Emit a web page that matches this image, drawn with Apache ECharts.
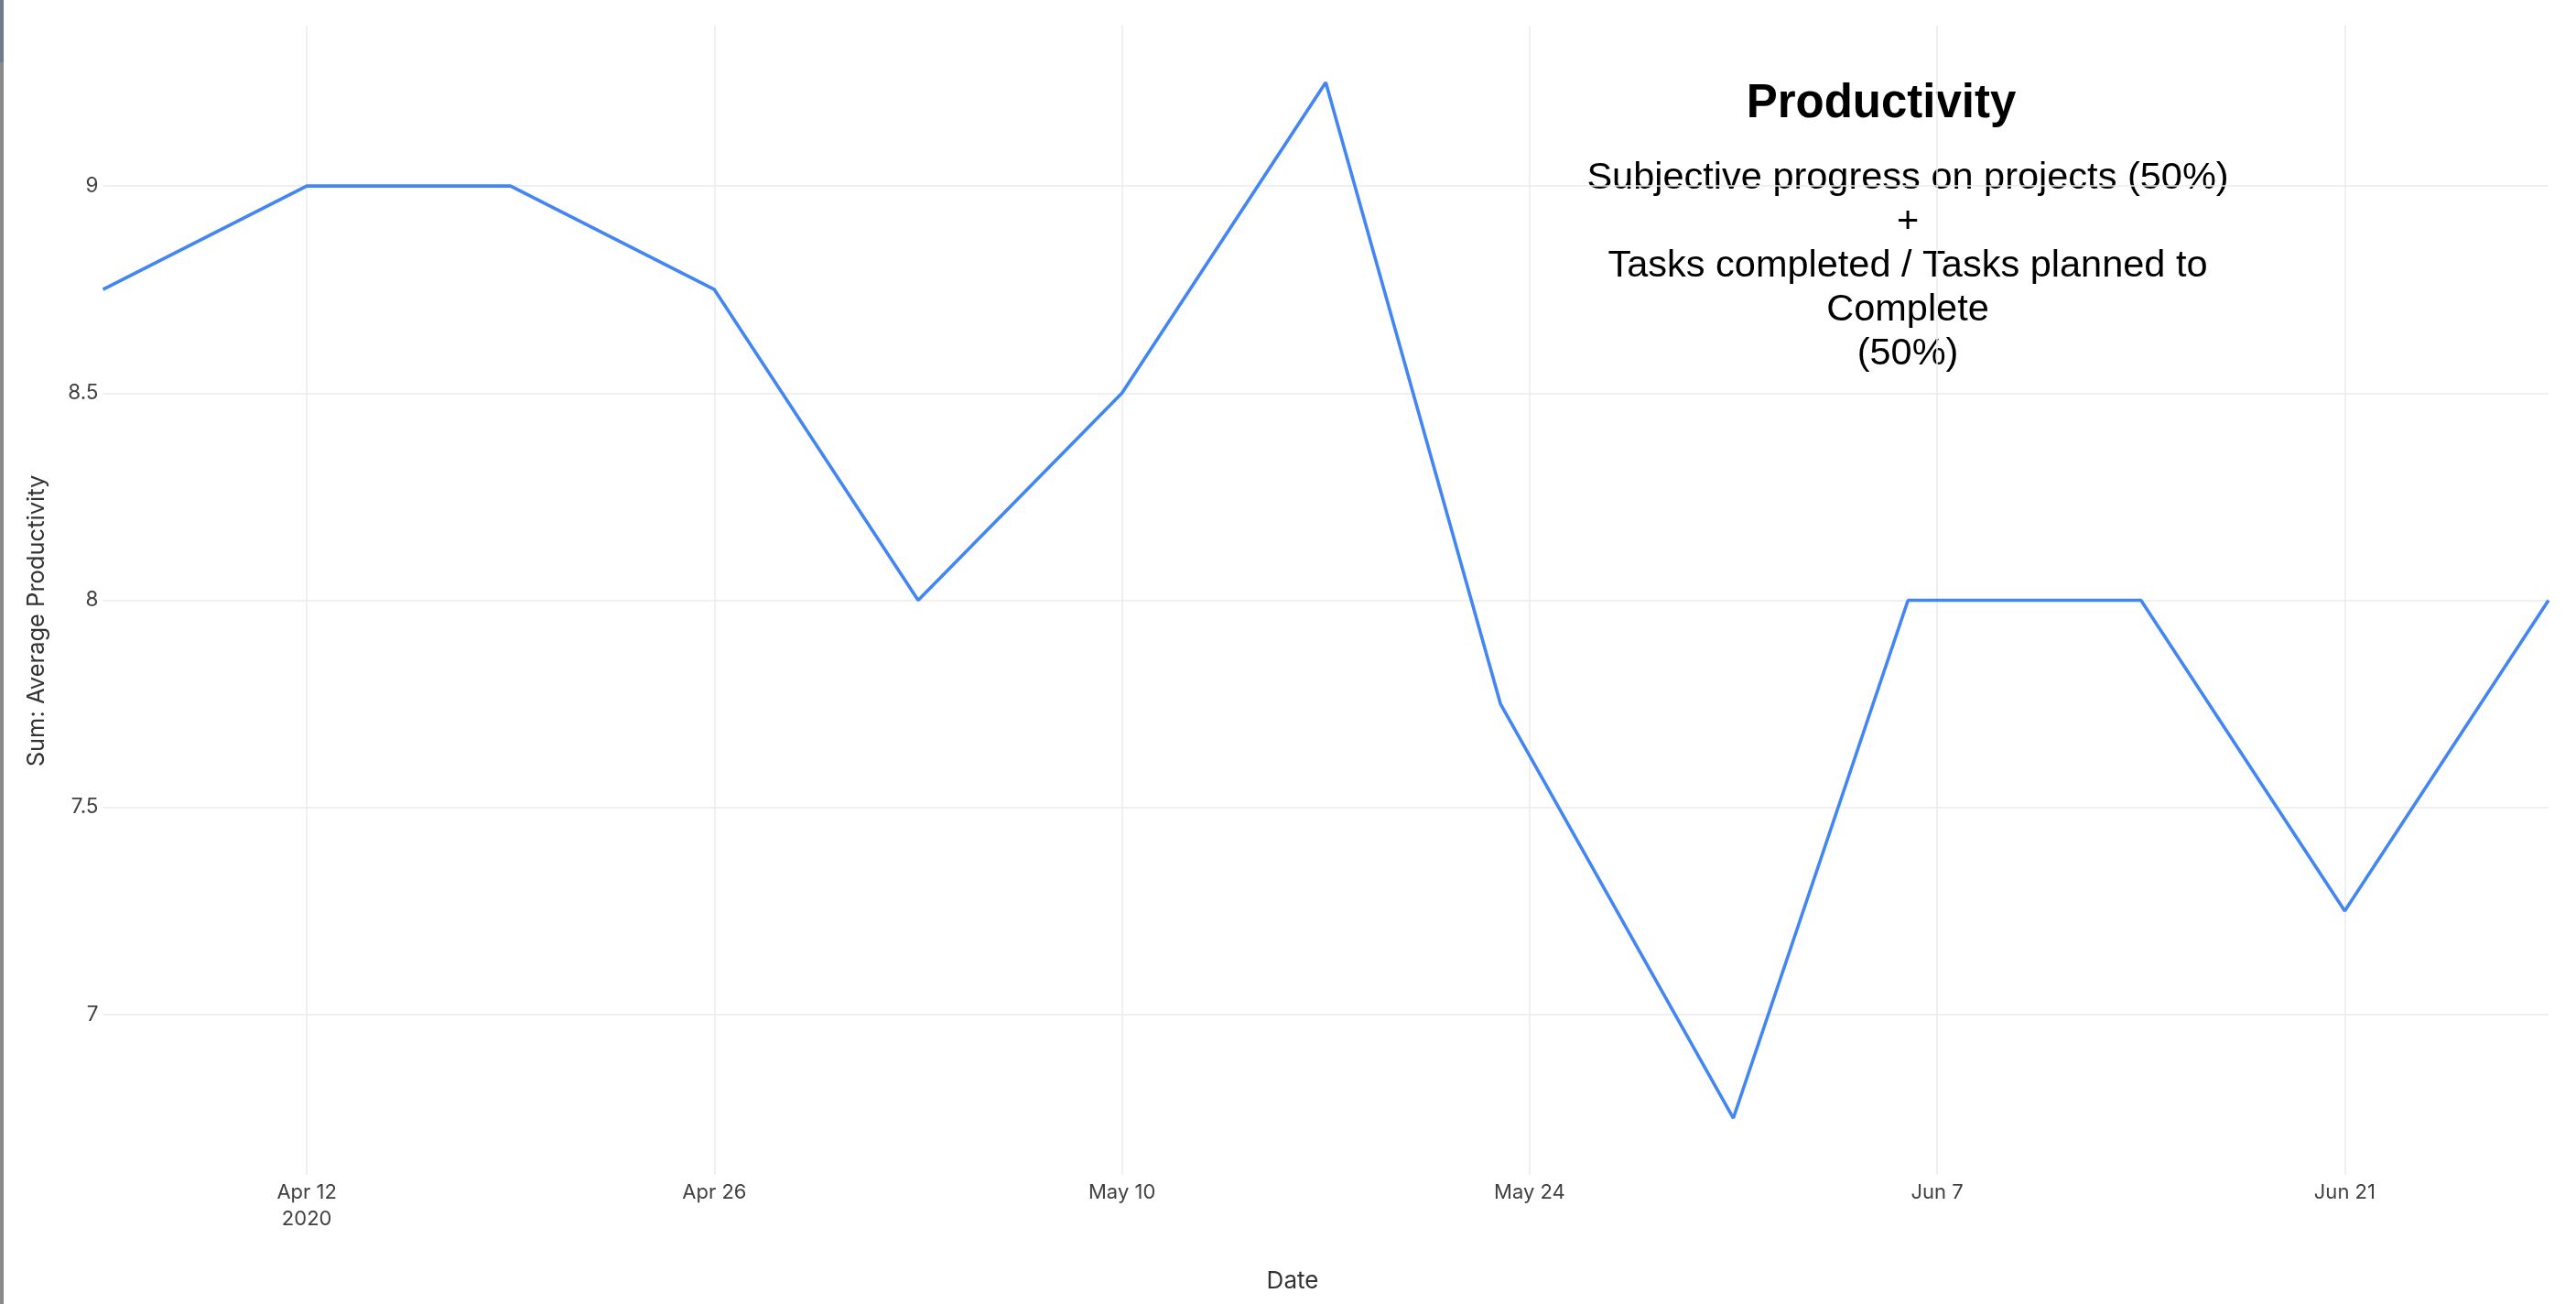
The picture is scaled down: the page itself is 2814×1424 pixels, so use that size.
<!DOCTYPE html>
<html>
<head>
<meta charset="utf-8">
<script src="https://cdn.jsdelivr.net/npm/echarts@6/dist/echarts.min.js"></script>
<style>
  html, body { margin: 0; padding: 0; background: #ffffff; }
  #chart { width: 2814px; height: 1424px; }
  #edgeTop { position: absolute; left: 0; top: 0; width: 4px; height: 68px; background: #6f7d8b; }
  #edgeBottom { position: absolute; left: 0; top: 68px; width: 4px; height: 1356px; background: #8a8a8a; }
</style>
</head>
<body>
<div id="chart"></div>
<div id="edgeTop"></div>
<div id="edgeBottom"></div>
<script>
// ---- data ----
const dates = ['2020-04-05', '2020-04-12', '2020-04-19', '2020-04-26', '2020-05-03', '2020-05-10',
               '2020-05-17', '2020-05-23', '2020-05-31', '2020-06-06', '2020-06-14', '2020-06-21', '2020-06-28'];
const productivity = [8.75, 9, 9, 8.75, 8, 8.5, 9.25, 7.75, 6.75, 8, 8, 7.25, 8];
const xTickDates = ['2020-04-12', '2020-04-26', '2020-05-10', '2020-05-24', '2020-06-07', '2020-06-21'];
const xTickLabels = ['Apr 12\n2020', 'Apr 26', 'May 10', 'May 24', 'Jun 7', 'Jun 21'];
const yTicks = [7, 7.5, 8, 8.5, 9];
const xRange = ['2020-04-05', '2020-06-28'];
const yRange = [6.613, 9.387];
const titleText = 'Productivity';
const subtitleText = 'Subjective progress on projects (50%)\n+\nTasks completed / Tasks planned to\nComplete\n(50%)';
const xAxisTitle = 'Date';
const yAxisTitle = 'Sum: Average Productivity';

const parseDate = s => { const p = s.split('-').map(Number); return Date.UTC(p[0], p[1] - 1, p[2]); };
const xTickValues = xTickDates.map(parseDate);

const chart = echarts.init(document.getElementById('chart'), null, { renderer: 'canvas' });
const tickFont = 'Inter, Roboto, sans-serif';

chart.setOption({
  backgroundColor: '#ffffff',
  animation: false,
  grid: { left: 112.5, right: 30, top: 28, bottom: 141, outerBoundsMode: 'none', containLabel: false },
  xAxis: {
    type: 'value',
    min: parseDate(xRange[0]),
    max: parseDate(xRange[1]),
    axisLine: { show: false },
    axisTick: { show: false, customValues: xTickValues },
    splitLine: { show: true, lineStyle: { color: '#ebebeb', width: 1.5 } },
    axisLabel: {
      customValues: xTickValues,
      color: '#404040',
      fontFamily: tickFont,
      fontSize: 22,
      lineHeight: 29,
      margin: 5,
      hideOverlap: false,
      formatter: function (value) {
        const i = xTickValues.indexOf(value);
        return i >= 0 ? xTickLabels[i] : '';
      }
    }
  },
  yAxis: {
    type: 'value',
    min: yRange[0],
    max: yRange[1],
    axisLine: { show: false },
    axisTick: { show: false, customValues: yTicks },
    splitLine: { show: true, lineStyle: { color: '#ebebeb', width: 1.5 } },
    axisLabel: {
      customValues: yTicks,
      color: '#404040',
      fontFamily: tickFont,
      fontSize: 22.5,
      margin: 5
    }
  },
  series: [{
    type: 'line',
    data: dates.map((d, i) => [parseDate(d), productivity[i]]),
    showSymbol: false,
    symbol: 'none',
    lineStyle: { color: '#4285f4', width: 3.6 },
    itemStyle: { color: '#4285f4' },
    clip: false
  }],
  graphic: [
    {
      type: 'text', x: 2055, y: 114,
      style: { text: titleText, align: 'center', verticalAlign: 'middle',
               font: 'bold 51px "Liberation Sans", Arial, sans-serif', fill: '#000000' }
    },
    {
      type: 'text', x: 2084, y: 171,
      style: { text: subtitleText, align: 'center', verticalAlign: 'top', lineHeight: 48,
               font: '41.5px "Liberation Sans", Arial, sans-serif', fill: '#000000' }
    },
    {
      type: 'text', x: 1412, y: 1399,
      style: { text: xAxisTitle, align: 'center', verticalAlign: 'middle',
               font: '26px Inter, Roboto, sans-serif', fill: '#333333' }
    },
    {
      type: 'text', x: 40, y: 678, rotation: Math.PI / 2,
      style: { text: yAxisTitle, align: 'center', verticalAlign: 'middle',
               font: '25.5px Inter, Roboto, sans-serif', fill: '#333333' }
    }
  ]
});
</script>
</body>
</html>
